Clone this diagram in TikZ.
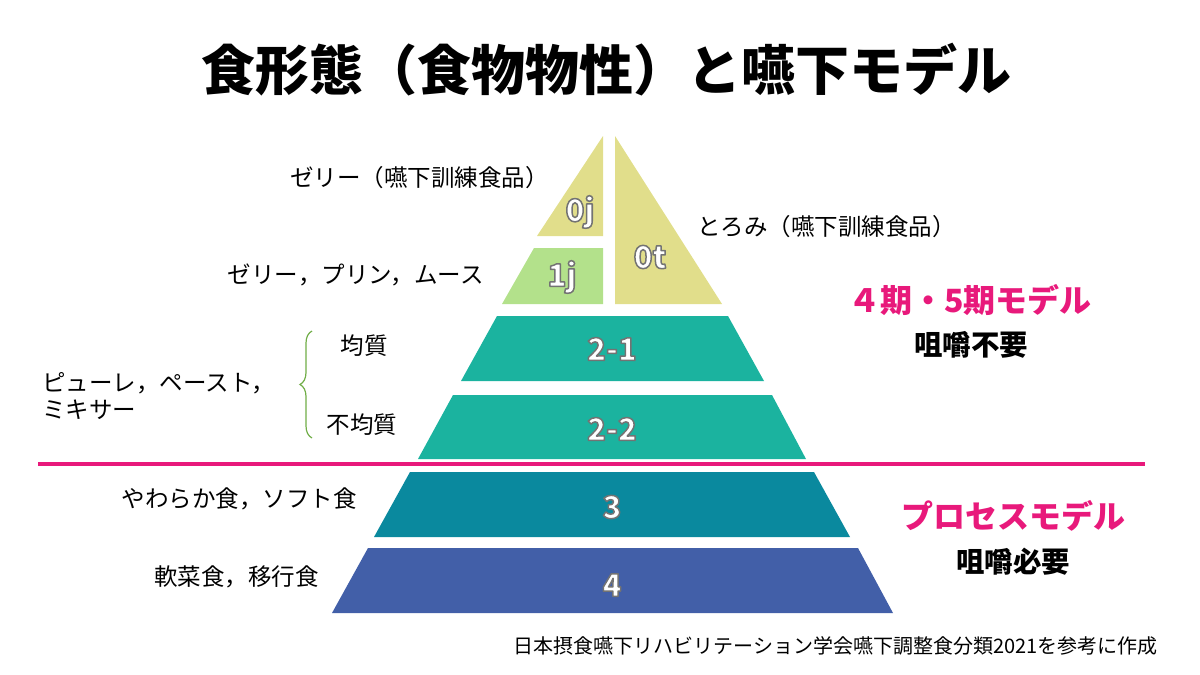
\documentclass[tikz,border=0pt]{standalone}
\usepackage{fontspec}
\setmainfont{Noto Sans CJK JP}
\usetikzlibrary{decorations.pathreplacing}
\definecolor{jelly}{HTML}{E1DE8B}
\definecolor{mousse}{HTML}{B3E18B}
\definecolor{puree}{HTML}{1BB39F}
\definecolor{soft}{HTML}{0A899E}
\definecolor{mild}{HTML}{425FA8}
\definecolor{accent}{HTML}{E8197B}
\definecolor{bracegreen}{HTML}{70AD47}
\newcommand{\lvltext}[1]{\special{pdf:literal direct 2 Tr 1.5 w 1 j 0.45 0.45 0.45 RG}#1\special{pdf:literal direct 0 Tr}}

\begin{document}
\begin{tikzpicture}[x=1pt, y=-1pt,
    lvl/.style={text=white, inner sep=0, font=\bfseries\fontsize{31}{32}\selectfont},
    food/.style={inner sep=0, font=\fontsize{23.5}{27}\selectfont},
    model/.style={inner sep=0, text=accent, font=\bfseries\fontsize{32}{34}\selectfont},
    need/.style={inner sep=0, font=\bfseries\fontsize{28.5}{30}\selectfont}]
            \useasboundingbox (0,0) rectangle (1200,675);
            \node[inner sep=0, font=\bfseries\fontsize{54}{58}\selectfont] (title) at (606,70) {食形態（食物物性）と嚥下モデル};

            \fill[jelly] (603,136) -- (603,236) -- (537,236) -- cycle;
            \fill[mousse] (534,248) -- (603,248) -- (603,304) -- (502,304) -- cycle;
            \fill[jelly] (615,136) -- (722,304) -- (615,304) -- cycle;
            \fill[puree] (497,316) -- (728,316) -- (764,381) -- (461,381) -- cycle;
            \fill[puree] (453,395) -- (772,395) -- (806,459) -- (418,459) -- cycle;
            \fill[soft] (410,472) -- (814,472) -- (850,537) -- (374,537) -- cycle;
            \fill[mild] (368,548) -- (858,548) -- (893,613) -- (332,613) -- cycle;

            \node[lvl] (l0j) at (580,212) {\lvltext{0j}};
            \node[lvl] (l1j) at (562,277) {\lvltext{1j}};
            \node[lvl] (l0t) at (650,257) {\lvltext{0t}};
            \node[lvl] (l21) at (612,349) {\lvltext{2-1}};
            \node[lvl] (l22) at (612,429) {\lvltext{2-2}};
            \node[lvl] (l3) at (612,507) {\lvltext{3}};
            \node[lvl] (l4) at (612,585) {\lvltext{4}};

            \coordinate (lineL) at (38,464);
            \coordinate (lineR) at (1145,464);
            \draw[accent, line width=4pt] (lineL) -- (lineR);

            \node[food, anchor=east] (jelly0) at (549,178) {ゼリー（嚥下訓練食品）};
            \node[food, anchor=west] (thick0) at (697,227) {とろみ（嚥下訓練食品）};
            \node[food, anchor=east] (jelly1) at (484,275) {ゼリー，プリン，ムース};
            \node[food, anchor=west, align=left, font=\fontsize{23.5}{27}\selectfont] (puree) at (42,396) {ピューレ，ペースト，\\ミキサー};
            \node[food] (homo) at (364,346) {均質};
            \node[food] (hetero) at (362,425) {不均質};
            \coordinate (braceB) at (312,438);
            \coordinate (braceT) at (312,331);
            \draw[bracegreen, line width=1.2pt, decorate, decoration={brace, amplitude=12pt}] (braceB) -- (braceT);
            \node[food, anchor=east] (soft3) at (357,499) {やわらか食，ソフト食};
            \node[food, anchor=east] (mild4) at (319,577) {軟菜食，移行食};

            \node[model] (oral) at (970,300) {４期・5期モデル};
            \node[need] (nochew) at (971,345) {咀嚼不要};
            \node[model] (process) at (1013,516) {プロセスモデル};
            \node[need] (chew) at (1013,562) {咀嚼必要};

            \node[inner sep=0, anchor=east, font=\fontsize{20}{22}\selectfont] (source) at (1158,646) {日本摂食嚥下リハビリテーション学会嚥下調整食分類2021を参考に作成};
        \end{tikzpicture}
\end{document}
